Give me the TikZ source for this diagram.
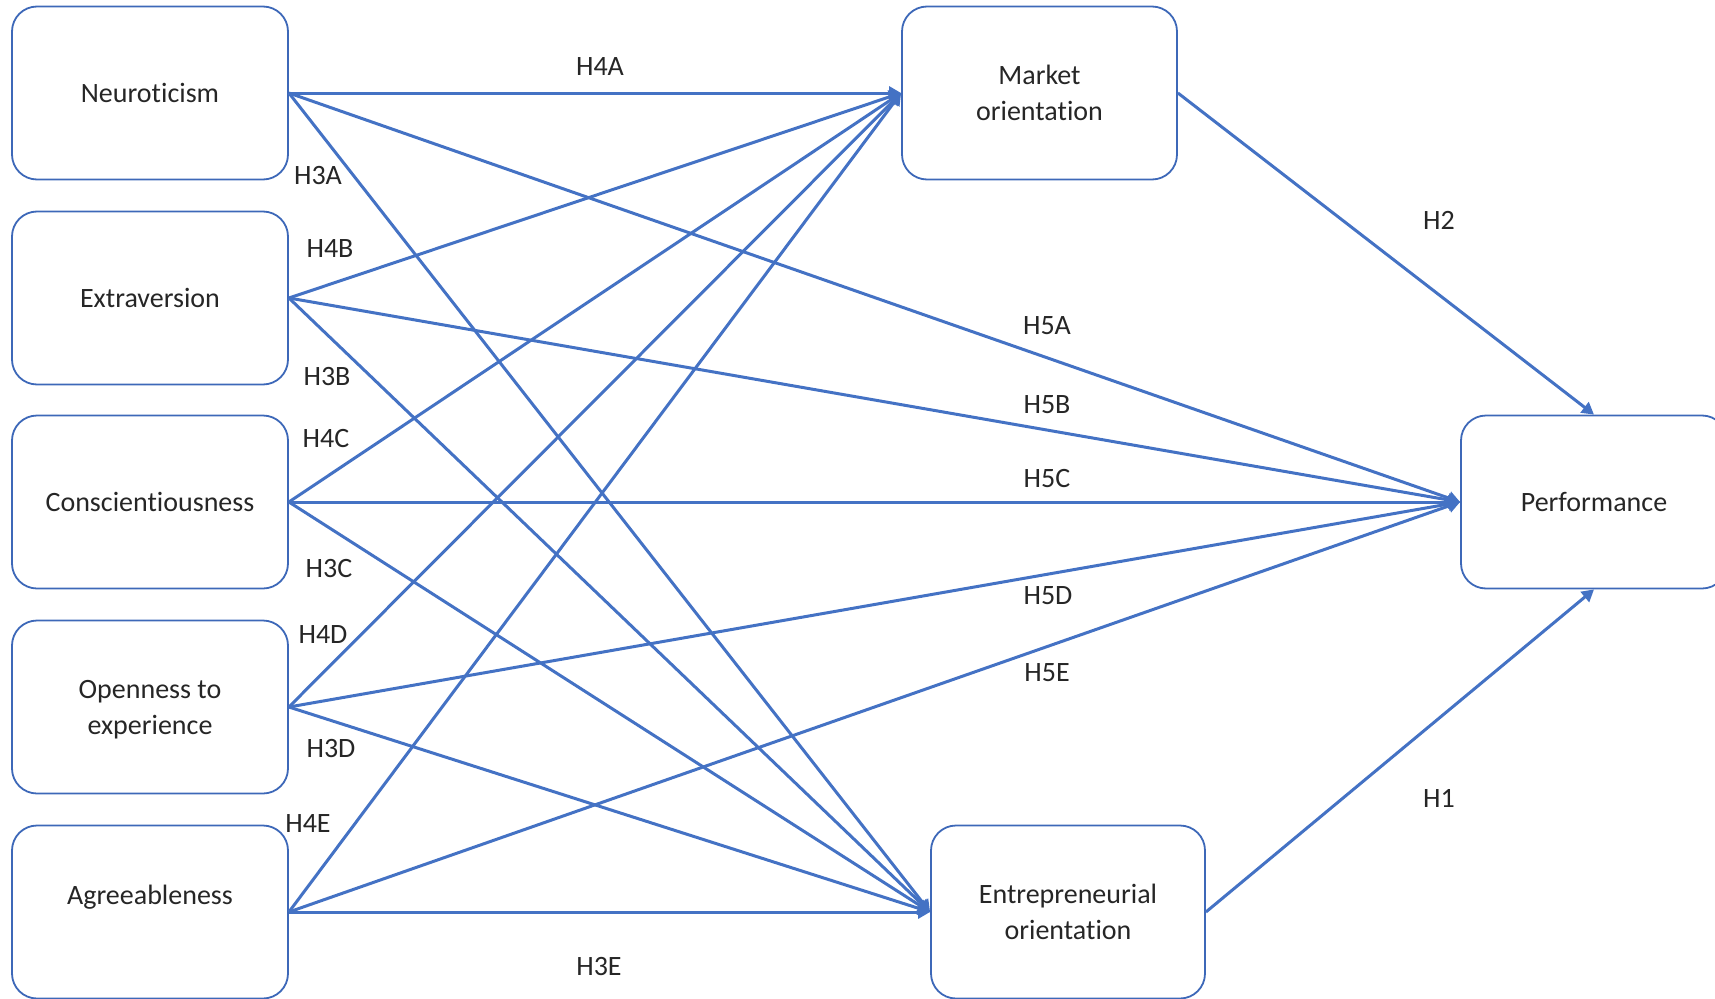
\documentclass[tikz,border=0pt]{standalone}
\usepackage{fontspec}
\setmainfont{Carlito}[Ligatures={NoCommon,NoRequired,NoContextual}, Contextuals=NoAlternate]
\usetikzlibrary{arrows.meta}

\definecolor{linkblue}{HTML}{4472C4}
\definecolor{boxblue}{HTML}{3D68B8}

\tikzset{
  factor/.style={draw=boxblue, line width=1.8pt, rounded corners=25pt,
    minimum width=276pt, minimum height=173pt, align=center,
    font=\fontsize{28}{36}\selectfont, text=black!85},
  link/.style={draw=linkblue, line width=3pt, -{Triangle[length=12pt,width=13pt]}},
  hyp/.style={font=\fontsize{28}{34}\selectfont, text=black!85},
}

\begin{document}
\begin{tikzpicture}[x=1pt,y=-1pt]
        \useasboundingbox (0,0) rectangle (1715,998);

        % personality traits
        \node[factor] (neu) at (150,93) {Neuroticism};
        \node[factor] (ext) at (150,298) {Extraversion};
        \node[factor] (con) at (150,502) {Conscientiousness};
        \node[factor, text depth=-3pt] (ope) at (150,707) {Openness to\\experience};
        \node[factor, text depth=34pt] (agr) at (150,912) {Agreeableness};

        % mediators and outcome
        \node[factor, minimum width=275pt] (mo) at (1039.5,93) {Market\\orientation};
        \node[factor, minimum width=274pt] (eo) at (1068,912) {Entrepreneurial\\orientation};
        \node[factor, minimum width=266pt] (perf) at (1594,502) {Performance};

        % hypotheses
        \foreach \t in {neu,ext,con,ope,agr} {
            \draw[link] (\t.east) -- (mo.west);
            \draw[link] (\t.east) -- (eo.west);
            \draw[link] (\t.east) -- (perf.west);
        }
        \draw[link] (mo.east) -- (perf.north);
        \draw[link] (eo.east) -- (perf.south);

        % labels
        \foreach \h/\x/\y in {H4A/600/67, H3A/318/176, H4B/330/249, H3B/327/377,
            H4C/326/439, H3C/329/569, H4D/323/635, H3D/331/749, H4E/308/823,
            H3E/599/966, H5A/1047/326, H5B/1047/405, H5C/1047/479, H5D/1048/596,
            H5E/1047/673, H2/1439/220, H1/1439/798}
            \node[hyp] (l\h) at (\x,\y) {\h};

    \end{tikzpicture}
\end{document}
